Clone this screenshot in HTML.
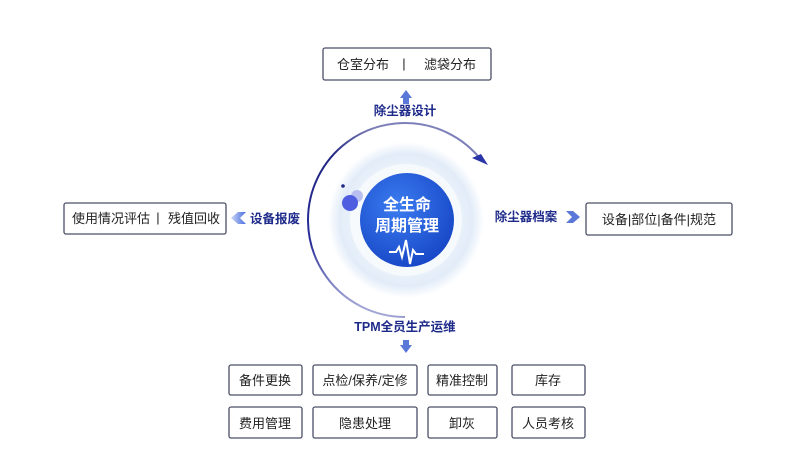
<!DOCTYPE html>
<html><head><meta charset="utf-8"><style>
body{margin:0;background:#fff;}
svg{display:block;font-family:"Liberation Sans","Noto Sans CJK SC",sans-serif;}
.b{fill:#fff;stroke:#4a4f66;stroke-width:1.3;}
.t{font-size:13px;fill:#222;text-anchor:middle;}
.l{font-size:12.5px;font-weight:bold;fill:#1e2a8a;text-anchor:middle;}
</style></head><body>
<svg width="809" height="454" viewBox="0 0 809 454">
<defs>
<radialGradient id="glow" cx="50%" cy="50%" r="50%">
<stop offset="0.6" stop-color="#eef4fb"/><stop offset="0.85" stop-color="#e2ecf8"/><stop offset="1" stop-color="#ffffff"/>
</radialGradient>
<radialGradient id="disc" cx="40%" cy="35%" r="70%">
<stop offset="0" stop-color="#3b7cf0"/><stop offset="1" stop-color="#1746c6"/>
</radialGradient>
<linearGradient id="arc" x1="0" y1="1" x2="0.3" y2="0">
<stop offset="0" stop-color="#e8ecf6"/><stop offset="0.35" stop-color="#2a2f9a"/><stop offset="0.8" stop-color="#1f2380"/><stop offset="1" stop-color="#7d80b8"/>
</linearGradient>
<linearGradient id="ar" x1="0" y1="0" x2="1" y2="0"><stop offset="0" stop-color="#c8d4f5"/><stop offset="1" stop-color="#4a6ee0"/></linearGradient>
</defs>
<rect class="b" x="323" y="48" width="168" height="32" rx="2"/>
<text class="t" x="363" y="69">仓室分布</text>
<text class="t" x="404" y="68" fill="#555">|</text>
<text class="t" x="450" y="69">滤袋分布</text>
<polygon points="400,98 406,90 412,98 409,98 409,104 403,104 403,98" fill="#5a78d8"/>
<text class="l" x="405" y="115">除尘器设计</text>
<circle cx="406" cy="220" r="78" fill="url(#glow)"/>
<circle cx="406" cy="220" r="56" fill="#f7fafd"/>
<circle cx="407" cy="220" r="47" fill="url(#disc)"/>
<text x="407" y="210" font-size="16" font-weight="bold" fill="#fff" text-anchor="middle">全生命</text>
<text x="407" y="231" font-size="16" font-weight="bold" fill="#fff" text-anchor="middle">周期管理</text>
<polyline points="389,252 396,252 399,247 402,257 406,240 410,264 413,250 416,254 424,254" fill="none" stroke="#fff" stroke-width="2"/>
<circle cx="357" cy="196" r="6" fill="#b8bff0"/>
<circle cx="350" cy="203" r="8" fill="#4f5de0"/>
<circle cx="343" cy="186" r="1.8" fill="#1e2a8a"/>
<path d="M405,317 A97,97 0 1 1 482,161" fill="none" stroke="url(#arc)" stroke-width="2"/>
<polygon points="488,165 472,158 481,154" fill="#2a35a8"/>
<rect class="b" x="64" y="203" width="162" height="31" rx="2"/>
<text class="t" x="111" y="223">使用情况评估</text>
<text class="t" x="158" y="222" fill="#555">|</text>
<text class="t" x="194" y="223">残值回收</text>
<polygon points="231,218 238,212 246,212 240,218 246,224 238,224" fill="url(#ar)"/>
<text class="l" x="275" y="223">设备报废</text>
<text class="l" x="526" y="221">除尘器档案</text>
<polygon points="580,217 573,211 566,211 572,217 566,223 573,223" fill="#5a78d8"/>
<rect class="b" x="586" y="203" width="146" height="32" rx="2"/>
<text class="t" x="659" y="224">设备|部位|备件|规范</text>
<text class="l" x="405" y="331">TPM全员生产运维</text>
<polygon points="400,345 403,345 403,340 409,340 409,345 412,345 406,353" fill="#5a78d8"/>
<rect class="b" x="229" y="365" width="73" height="30" rx="2"/><text class="t" x="265" y="385">备件更换</text>
<rect class="b" x="313" y="365" width="104" height="30" rx="2"/><text class="t" x="365" y="385">点检/保养/定修</text>
<rect class="b" x="428" y="365" width="69" height="30" rx="2"/><text class="t" x="462" y="385">精准控制</text>
<rect class="b" x="512" y="365" width="73" height="30" rx="2"/><text class="t" x="548" y="385">库存</text>
<rect class="b" x="229" y="407" width="73" height="31" rx="2"/><text class="t" x="265" y="428">费用管理</text>
<rect class="b" x="313" y="407" width="104" height="31" rx="2"/><text class="t" x="365" y="428">隐患处理</text>
<rect class="b" x="428" y="407" width="69" height="31" rx="2"/><text class="t" x="462" y="428">卸灰</text>
<rect class="b" x="512" y="407" width="73" height="31" rx="2"/><text class="t" x="548" y="428">人员考核</text>
</svg>
</body></html>
